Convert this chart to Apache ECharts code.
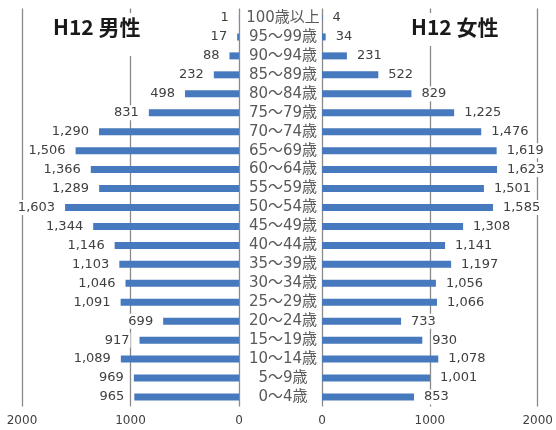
<!DOCTYPE html>
<html>
<head>
<meta charset="utf-8">
<script src="https://cdn.jsdelivr.net/npm/echarts@6/dist/echarts.min.js"></script>
<style>html,body{margin:0;padding:0;background:#fff;}#c{width:556px;height:430px;}</style>
</head>
<body>
<div id="c"></div>
<script>
const categories = ["100歳以上","95～99歳","90～94歳","85～89歳","80～84歳","75～79歳","70～74歳","65～69歳","60～64歳","55～59歳","50～54歳","45～49歳","40～44歳","35～39歳","30～34歳","25～29歳","20～24歳","15～19歳","10～14歳","5～9歳","0～4歳"];
const male = [1,17,88,232,498,831,1290,1506,1366,1289,1603,1344,1146,1103,1046,1091,699,917,1089,969,965];
const female = [4,34,231,522,829,1225,1476,1619,1623,1501,1585,1308,1141,1197,1056,1066,733,930,1078,1001,853];
const xTicks = [0,1000,2000];
const titleMale = "H12 男性";
const titleFemale = "H12 女性";

const chart = echarts.init(document.getElementById('c'), null, {renderer:'canvas'});
const fmt = v => v.toLocaleString('en-US');
const labelFont = {fontFamily:"'DejaVu Sans', sans-serif", fontSize:13, color:'#404040', backgroundColor:'#fff', padding:[1,1]};
const gridLine = {show:true, lineStyle:{color:'#8a8a8a', width:1.3}};
const xAxisCommon = {type:'value', min:xTicks[0], max:xTicks[2], interval:xTicks[1]-xTicks[0],
  axisLine:{show:false}, axisTick:{show:false}, splitLine:gridLine,
  axisLabel:{formatter:v=>String(v), fontFamily:"'DejaVu Sans', sans-serif", fontSize:12, color:'#404040', margin:8}};
chart.setOption({
  animation:false,
  backgroundColor:'#fff',
  title:[
    {text:titleMale, left:49, top:13, padding:[4,4,18,4], backgroundColor:'#fff',
     textStyle:{fontFamily:"'Noto Sans CJK JP', sans-serif", fontSize:21, fontWeight:'bold', color:'#1a1a1a'}},
    {text:titleFemale, left:407, top:13, padding:[4,4,8,4], backgroundColor:'#fff',
     textStyle:{fontFamily:"'Noto Sans CJK JP', sans-serif", fontSize:21, fontWeight:'bold', color:'#1a1a1a'}}
  ],
  grid:[
    {left:22, width:217, top:8.5, height:398, containLabel:false},
    {left:322, width:219, top:8.5, height:398, containLabel:false}
  ],
  xAxis:[
    Object.assign({gridIndex:0, inverse:true}, xAxisCommon),
    Object.assign({gridIndex:1}, xAxisCommon)
  ],
  yAxis:[
    {type:'category', gridIndex:0, data:categories, inverse:true, position:'right',
     axisLine:{show:false}, axisTick:{show:false}, splitLine:{show:false},
     axisLabel:{interval:0, align:'center', margin:44, fontFamily:"'DejaVu Sans', 'Noto Sans CJK JP', sans-serif", fontSize:15, color:'#595959'}},
    {type:'category', gridIndex:1, data:categories, inverse:true,
     axisLine:{show:false}, axisTick:{show:false}, axisLabel:{show:false}, splitLine:{show:false}}
  ],
  series:[
    {type:'bar', xAxisIndex:0, yAxisIndex:0, data:male, barWidth:7,
     itemStyle:{color:'#4679bd'},
     label:Object.assign({show:true, position:'left', distance:9, formatter:p=>fmt(p.value)}, labelFont)},
    {type:'bar', xAxisIndex:1, yAxisIndex:1, data:female, barWidth:7,
     itemStyle:{color:'#4679bd'},
     label:Object.assign({show:true, position:'right', distance:9, formatter:p=>fmt(p.value)}, labelFont)}
  ]
});
</script>
</body>
</html>
